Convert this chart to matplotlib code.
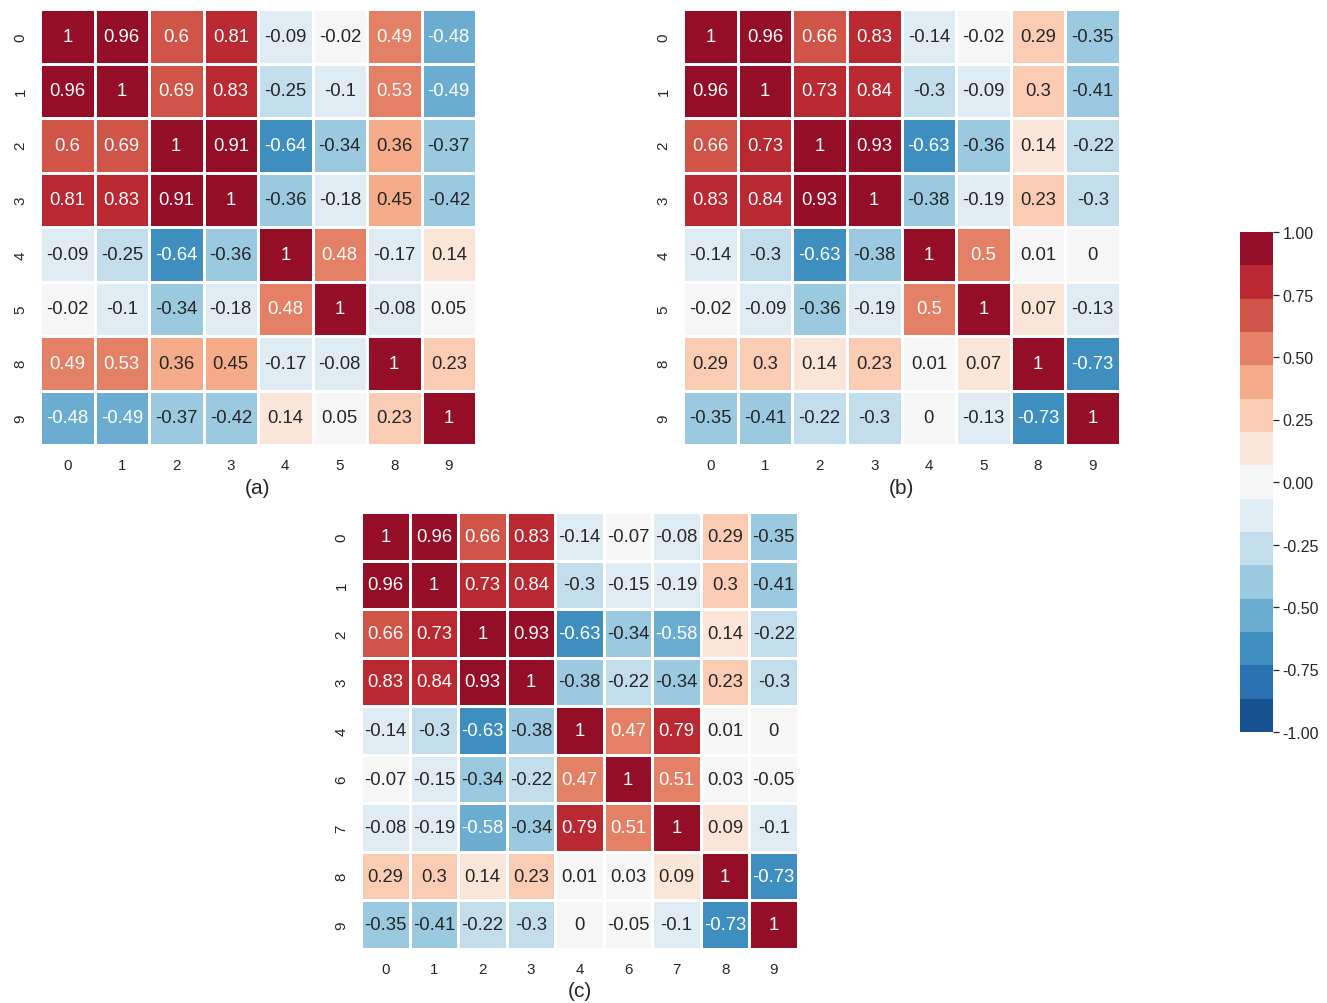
import numpy as np
import matplotlib
matplotlib.use("Agg")
import matplotlib.pyplot as plt
from matplotlib.colors import ListedColormap, to_rgb
import seaborn as sns

plt.rcParams['font.family'] = ['Liberation Sans', 'DejaVu Sans']

# ---------------- data ----------------
labels_a = ["0", "1", "2", "3", "4", "5", "8", "9"]
corr_a = [
    [1, 0.96, 0.6, 0.81, -0.09, -0.02, 0.49, -0.48],
    [0.96, 1, 0.69, 0.83, -0.25, -0.1, 0.53, -0.49],
    [0.6, 0.69, 1, 0.91, -0.64, -0.34, 0.36, -0.37],
    [0.81, 0.83, 0.91, 1, -0.36, -0.18, 0.45, -0.42],
    [-0.09, -0.25, -0.64, -0.36, 1, 0.48, -0.17, 0.14],
    [-0.02, -0.1, -0.34, -0.18, 0.48, 1, -0.08, 0.05],
    [0.49, 0.53, 0.36, 0.45, -0.17, -0.08, 1, 0.23],
    [-0.48, -0.49, -0.37, -0.42, 0.14, 0.05, 0.23, 1],
]

labels_b = ["0", "1", "2", "3", "4", "5", "8", "9"]
corr_b = [
    [1, 0.96, 0.66, 0.83, -0.14, -0.02, 0.29, -0.35],
    [0.96, 1, 0.734, 0.84, -0.3, -0.09, 0.3, -0.41],
    [0.66, 0.734, 1, 0.93, -0.63, -0.36, 0.14, -0.22],
    [0.83, 0.84, 0.93, 1, -0.38, -0.19, 0.23, -0.3],
    [-0.14, -0.3, -0.63, -0.38, 1, 0.5, 0.01, 0],
    [-0.02, -0.09, -0.36, -0.19, 0.5, 1, 0.07, -0.13],
    [0.29, 0.3, 0.14, 0.23, 0.01, 0.07, 1, -0.73],
    [-0.35, -0.41, -0.22, -0.3, 0, -0.13, -0.73, 1],
]

labels_c = ["0", "1", "2", "3", "4", "6", "7", "8", "9"]
corr_c = [
    [1, 0.96, 0.66, 0.83, -0.14, -0.066, -0.08, 0.29, -0.35],
    [0.96, 1, 0.734, 0.84, -0.3, -0.15, -0.19, 0.3, -0.41],
    [0.66, 0.734, 1, 0.93, -0.63, -0.34, -0.58, 0.14, -0.22],
    [0.83, 0.84, 0.93, 1, -0.38, -0.22, -0.34, 0.23, -0.3],
    [-0.14, -0.3, -0.63, -0.38, 1, 0.47, 0.79, 0.01, 0],
    [-0.066, -0.15, -0.34, -0.22, 0.47, 1, 0.51, 0.03, -0.05],
    [-0.08, -0.19, -0.58, -0.34, 0.79, 0.51, 1, 0.09, -0.1],
    [0.29, 0.3, 0.14, 0.23, 0.01, 0.03, 0.09, 1, -0.73],
    [-0.35, -0.41, -0.22, -0.3, 0, -0.05, -0.1, -0.73, 1],
]

panel_titles = ["(a)", "(b)", "(c)"]
cbar_ticks = [-1.0, -0.75, -0.5, -0.25, 0.0, 0.25, 0.5, 0.75, 1.0]

# ---------------- style ----------------
W, H = 1327, 1004
DPI = 100
fig = plt.figure(figsize=(W / DPI, H / DPI), dpi=DPI)
fig.patch.set_facecolor("white")

cmap = ListedColormap(sns.color_palette("RdBu_r", 15))
TXT = "#262626"


def px_axes(left, top, width, height):
    return fig.add_axes([left / W, 1 - (top + height) / H, width / W, height / H])


def lum(c):
    rgb = np.array(to_rgb(c))
    rgb = np.where(rgb <= 0.03928, rgb / 12.92, ((rgb + 0.055) / 1.055) ** 2.4)
    return 0.2126 * rgb[0] + 0.7152 * rgb[1] + 0.0722 * rgb[2]


def heat(ax, data, labels, title):
    arr = np.array(data, dtype=float)
    n = arr.shape[0]
    mesh = ax.pcolormesh(arr, cmap=cmap, vmin=-1, vmax=1,
                         edgecolors="white", linewidth=0.75)
    ax.set_xlim(0, n)
    ax.set_ylim(n, 0)
    colors = mesh.to_rgba(arr)
    for i in range(n):
        for j in range(n):
            v = round(arr[i, j], 2)
            s = f"{v:g}"
            if s == "-0":
                s = "0"
            col = TXT if lum(colors[i, j]) > 0.408 else "white"
            ax.text(j + 0.5, i + 0.5, s, ha="center", va="center",
                    fontsize=13.3, color=col)
    ax.set_xticks(np.arange(n) + 0.5)
    ax.set_xticklabels(labels)
    ax.set_yticks(np.arange(n) + 0.5)
    ax.set_yticklabels(labels, rotation=90, va="center")
    ax.tick_params(length=0, labelsize=10.9, colors=TXT, pad=9)
    for sp in ax.spines.values():
        sp.set_visible(False)
    bb = ax.get_position()
    fig.text((bb.x0 + bb.x1) / 2, bb.y0 - 42 / H, title, ha="center",
             va="center", fontsize=15, color=TXT)
    return mesh


ax_a = px_axes(40, 10, 436, 436)
ax_b = px_axes(683, 10, 437, 436)
ax_c = px_axes(361, 513, 437, 437)

m = heat(ax_a, corr_a, labels_a, panel_titles[0])
heat(ax_b, corr_b, labels_b, panel_titles[1])
heat(ax_c, corr_c, labels_c, panel_titles[2])

cax = px_axes(1240, 233, 33, 500)
cb = fig.colorbar(m, cax=cax, ticks=cbar_ticks, format="%.2f")
cb.outline.set_visible(False)
cax.tick_params(length=4.5, width=0.9, colors=TXT, labelsize=11.5, pad=2.5)

fig.savefig("out.png", dpi=DPI, facecolor="white")
